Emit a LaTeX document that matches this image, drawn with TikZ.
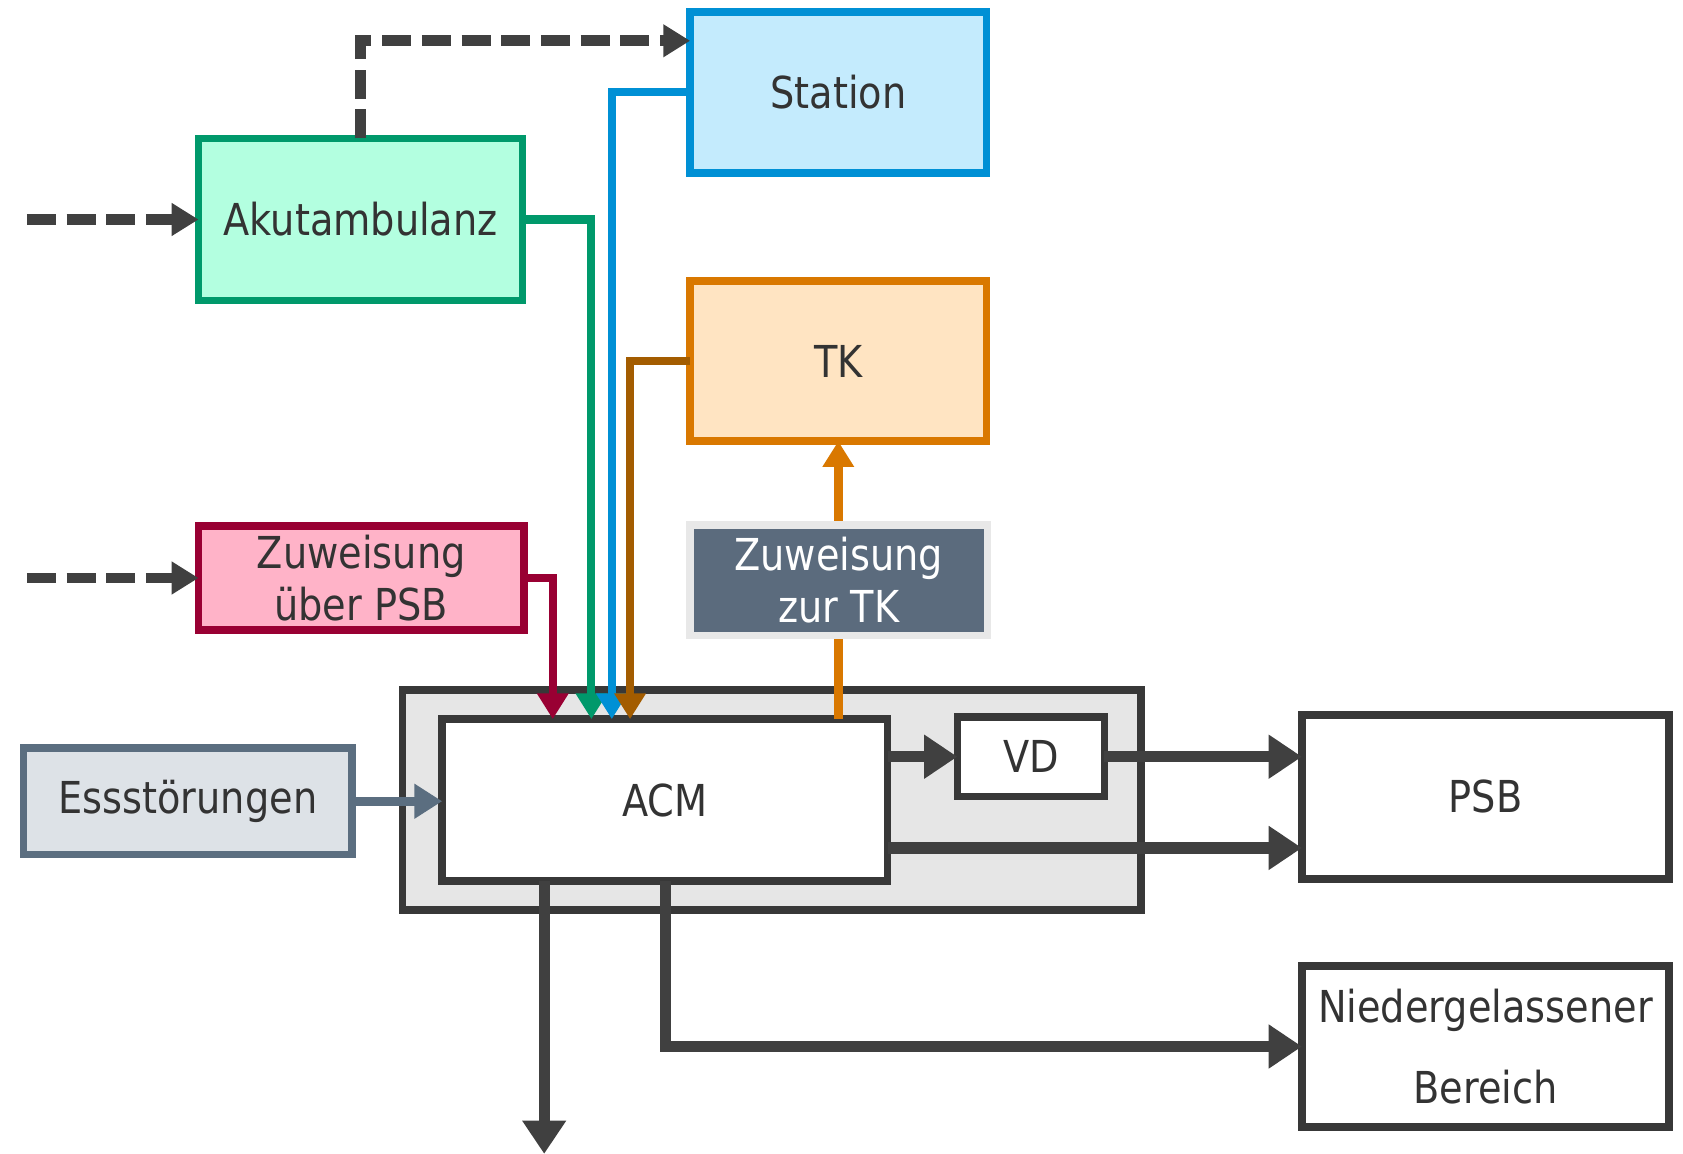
\documentclass[tikz,border=0pt]{standalone}
\usepackage{fontspec}
\setmainfont{DejaVu Sans}[FakeStretch=0.87]
\usetikzlibrary{arrows.meta}
\definecolor{txt}{HTML}{333333}
\definecolor{dkl}{HTML}{404040}
\definecolor{stfill}{HTML}{C4EBFD}
\definecolor{stdraw}{HTML}{0090D5}
\definecolor{akfill}{HTML}{B3FFE0}
\definecolor{akdraw}{HTML}{00996B}
\definecolor{tkfill}{HTML}{FFE4C2}
\definecolor{tkdraw}{HTML}{D97800}
\definecolor{zpfill}{HTML}{FFB3C8}
\definecolor{zpdraw}{HTML}{990033}
\definecolor{ztfill}{HTML}{5B6B7D}
\definecolor{ztdraw}{HTML}{E8E8E8}
\definecolor{esfill}{HTML}{DDE2E7}
\definecolor{esdraw}{HTML}{5B6E80}
\definecolor{cofill}{HTML}{E6E6E6}
\definecolor{codraw}{HTML}{383838}
\definecolor{brn}{HTML}{A35C00}
\begin{document}
\begin{tikzpicture}[x=1pt,y=-1pt,
  box/.style={draw, line width=7pt, outer sep=0pt, inner sep=0pt, align=center,
    text=txt, font=\fontsize{41}{49}\selectfont},
  dkarrow/.style={draw=dkl, line width=10.5pt, -{Triangle[length=31pt,width=39pt]}},
  colarrow/.style={line width=7.5pt, -{Triangle[length=24pt,width=28pt]}},
  dasharrow/.style={draw=dkl, line width=10pt, dash pattern=on 27pt off 10pt,
    -{Triangle[length=25pt,width=29pt]}}]
\useasboundingbox (0,0) rectangle (1568,1075);
% boxes
\node[box, draw=stdraw, fill=stfill, minimum width=276pt, minimum height=150pt] (Station) at (781,86) {Station};
\node[box, draw=akdraw, fill=akfill, minimum width=302pt, minimum height=151pt] (Akut) at (336,204.5) {Akutambulanz};
\node[box, draw=tkdraw, fill=tkfill, minimum width=276pt, minimum height=149pt] (TK) at (781,336.5) {TK};
\node[box, draw=zpdraw, fill=zpfill, minimum width=303pt, minimum height=97pt] (ZPSB) at (336.5,538.5) {Zuweisung\\über PSB};
\node[box, draw=esdraw, fill=esfill, minimum width=306pt, minimum height=99pt] (Ess) at (175,746.5) {Essstörungen};
\node[box, draw=codraw, fill=cofill, minimum width=688pt, minimum height=205pt] (Cont) at (719,745.5) {};
\node[box, draw=codraw, fill=white, minimum width=415pt, minimum height=151pt] (ACM) at (619.5,745.5) {ACM};
\node[box, draw=codraw, fill=white, minimum width=137pt, minimum height=74pt] (VD) at (960.5,705) {VD};
\node[box, draw=codraw, fill=white, minimum width=342pt, minimum height=153pt] (PSB) at (1384,742.5) {PSB};
\node[box, draw=codraw, fill=white, minimum width=342pt, minimum height=150pt] (NB) at (1384,975) {Niedergelassener\\[26pt]Bereich};
% free ends
\coordinate (inA) at (25,204.5);
\coordinate (inZ) at (25,538.5);
\coordinate (bot) at (507,1075);
% dashed inputs
\draw[dasharrow] (inA) -- (Akut.west);
\draw[dasharrow] (inZ) -- (ZPSB.west);
\draw[dasharrow] (Akut.north) |- (Station.west |- 0,38);
% coloured inputs to ACM
\draw[colarrow, draw=zpdraw] (ZPSB.east) -| (515,0 |- ACM.north);
\draw[colarrow, draw=akdraw] (Akut.east) -| (551,0 |- ACM.north);
\draw[colarrow, draw=stdraw] (Station.west) -| (570,0 |- ACM.north);
\draw[colarrow, draw=brn] (TK.west) -| (587,0 |- ACM.north);
% orange to TK via label
\draw[colarrow, draw=tkdraw, line width=8.5pt] (TK.south |- ACM.north) -- (TK.south);
\node[box, draw=ztdraw, fill=ztfill, text=white, minimum width=277pt, minimum height=103pt] (ZTK) at (781.5,540.5) {Zuweisung\\zur TK};
% Essstoerungen
\draw[draw=esdraw, line width=8.5pt, -{Triangle[length=26pt,width=31pt]}] (Ess.east) -- (Ess.east -| ACM.west);
% outputs
\draw[dkarrow] (VD.west -| ACM.east) -- (VD.west);
\draw[dkarrow] (VD.east) -- (VD.east -| PSB.west);
\draw[dkarrow] (ACM.east |- 0,790) -- (PSB.west |- 0,790);
\draw[dkarrow] (507,0 |- ACM.south) -- (bot);
\draw[dkarrow] (620,0 |- ACM.south) |- (NB.west);
\end{tikzpicture}
\end{document}
